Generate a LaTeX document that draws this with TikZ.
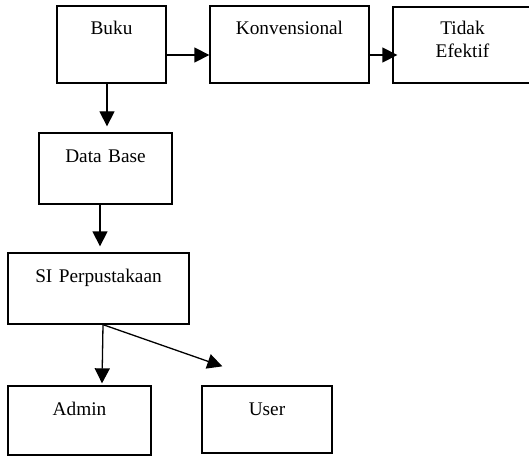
\documentclass[tikz,border=0pt]{standalone}
\usepackage{fontspec}
\setmainfont{Liberation Serif}
\usetikzlibrary{arrows.meta,calc}
\begin{document}
\begin{tikzpicture}[x=1pt,y=1pt,line width=1.3pt,every node/.style={font=\fontsize{19.3}{23}\selectfont},kotak/.style 2 args={draw,inner sep=0pt,align=center,text width=#1,text height=29pt,text depth=#2},panah/.style={-{Triangle[length=15pt,width=15pt]}}]
      \useasboundingbox (0,0) rectangle (529,456);
      \node[kotak={109pt}{48pt}] (buku) at (111.5,411.5) {Buku};
      \node[kotak={159pt}{48pt}] (konv) at (289.5,411.5) {Konvensional};
      \node[kotak={139pt}{48pt},text height=28pt] (tidak) at (462.5,411) {Tidak\\Efektif};
      \node[kotak={133pt}{42pt}] (db) at (105.5,287.5) {Data Base};
      \node[kotak={181pt}{42pt}] (si) at (98.5,167.5) {SI Perpustakaan};
      \node[kotak={143pt}{40pt}] (admin) at (79.5,35.5) {Admin};
      \node[kotak={130pt}{38pt}] (user) at (267,36.5) {User};
      \draw[panah] ([yshift=-10.5pt]buku.east) -- ([yshift=-10.5pt]konv.west);
      \draw[panah] ([yshift=-10.5pt]konv.east) -- ($(tidak.west)+(5,-10)$);
      \draw[panah] ([xshift=-4.5pt]buku.south) -- ($(db.north)+(1.5,6)$);
      \draw[panah] ([xshift=-5.5pt]db.south) -- ($(si.north)+(1.5,6)$);
      \draw[panah] ([xshift=4.5pt]si.south) -- ($(admin.north)+(22.5,2)$);
      \draw[panah] ([xshift=4.5pt]si.south) -- ($(user.north west)+(21,19)$);
\end{tikzpicture}
\end{document}
